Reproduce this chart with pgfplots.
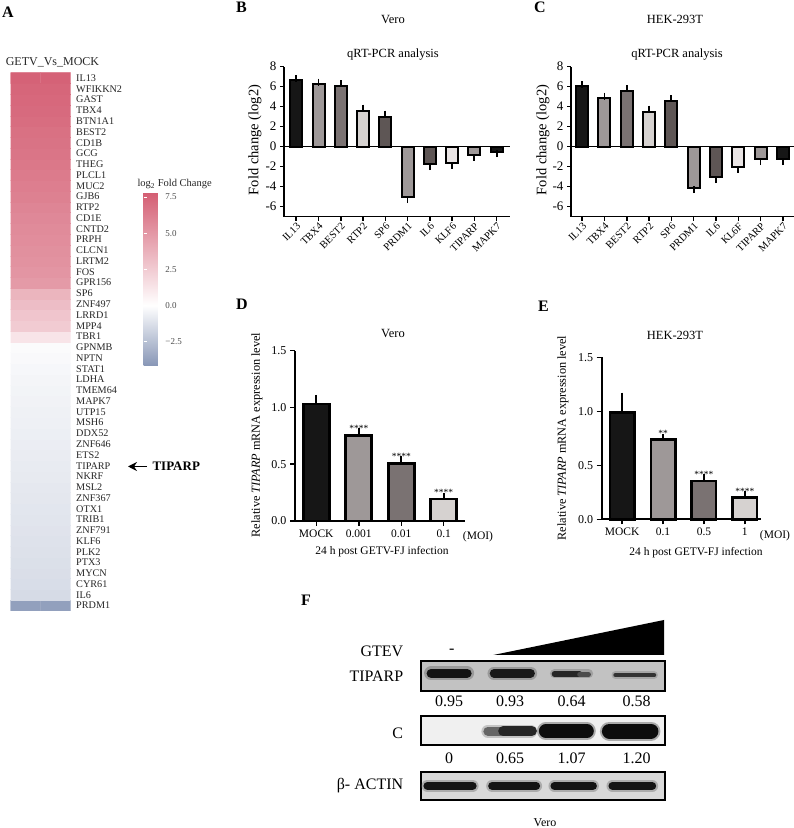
\documentclass[border=0pt]{standalone}
\usepackage{fontspec}
\setmainfont{Liberation Serif}
\usepackage{pgfplots}
\pgfplotsset{compat=1.18}
\usetikzlibrary{arrows.meta}
\newcommand{\fs}[1]{\fontsize{#1}{#1}\selectfont}
\definecolor{cA}{RGB}{22,22,22}
\definecolor{cB}{RGB}{158,152,152}
\definecolor{cC}{RGB}{122,114,114}
\definecolor{cD}{RGB}{214,210,208}
\definecolor{cE}{RGB}{94,86,85}
\definecolor{cF}{RGB}{233,228,228}
\pgfplotsset{
  panel/.style={anchor=south west, scale only axis, axis lines*=left,
    axis line style={line width=1.8pt}, tick align=outside, major tick length=4pt,
    tick style={line width=1.5pt, black}, clip=false},
  pb/.style={ybar, bar shift=0pt, bar width=#1, draw=black, line width=2pt,
    error bars/y dir=plus, error bars/y explicit,
    error bars/error bar style={line width=1.8pt, black},
    error bars/error mark options={line width=1.8pt, black, mark size=3.5pt}},
  nb/.style={ybar, bar shift=0pt, bar width=#1, draw=black, line width=2pt,
    error bars/y dir=minus, error bars/y explicit,
    error bars/error bar style={line width=1.8pt, black},
    error bars/error mark options={line width=1.8pt, black, mark size=3.5pt}},
  blot/.style={anchor=south west, scale only axis, width=244.3pt, xmin=0, xmax=4, ymin=0, ymax=1,
    axis line style={line width=2pt}, ticks=none},
  band/.style={line width=#1, line cap=round},
}
\begin{document}
\begin{tikzpicture}
\path[use as bounding box] (0,0) rectangle (794pt,828pt);

% ---------------- Panel A ----------------
\node[font=\bfseries\fs{16}] at (8pt,816pt) {A};
\node[font=\fs{12}, text=black!85] at (52.5pt,766pt) {GETV\_Vs\_MOCK};
\begin{axis}[at={(10.7pt,217pt)}, anchor=south west, scale only axis, width=60pt, height=538.3pt,
  xmin=-0.5, xmax=1.5, ymin=0.5, ymax=50.5, enlargelimits=false,
  axis line style={draw=none}, xtick=\empty, ytick={1,...,50},
  yticklabels={PRDM1,IL6,CYR61,MYCN,PTX3,PLK2,KLF6,ZNF791,TRIB1,OTX1,ZNF367,MSL2,NKRF,TIPARP,ETS2,ZNF646,DDX52,MSH6,UTP15,MAPK7,TMEM64,LDHA,STAT1,NPTN,GPNMB,TBR1,MPP4,LRRD1,ZNF497,SP6,GPR156,FOS,LRTM2,CLCN1,PRPH,CNTD2,CD1E,RTP2,GJB6,MUC2,PLCL1,THEG,GCG,CD1B,BEST2,BTN1A1,TBX4,GAST,WFIKKN2,IL13},
  yticklabel pos=right, ytick style={draw=none},
  yticklabel style={font=\fs{10.2}, text=black!85, inner sep=0pt, anchor=west, xshift=5.3pt},
  colormap={hm}{rgb255(0pt)=(135,150,182); rgb255(4.2pt)=(255,255,255); rgb255(12pt)=(212,94,115)},
  point meta min=-4.2, point meta max=7.8,
  colorbar,
  colorbar style={at={(parent axis.north east)}, anchor=north west, xshift=64.3pt, yshift=-120pt,
    scale only axis, width=17.7pt, height=173.3pt,
    ytick={-2.5,0,2.5,5,7.5}, yticklabels={−2.5,0.0,2.5,5.0,7.5},
    yticklabel style={font=\fs{9}, text=black!70, anchor=west, inner sep=0pt, xshift=4pt},
    axis line style={draw=none}, tick style={draw=white, line width=0.8pt},
    major tick length=3pt, tick align=inside},
]
\addplot[matrix plot*, mesh/cols=2, point meta=explicit] table[meta=c, row sep=\\] {
x y c\\
0 1 -3.8\\ 1 1 -3.8\\
0 2 -1.45\\ 1 2 -1.45\\
0 3 -1.35\\ 1 3 -1.35\\
0 4 -1.3\\ 1 4 -1.3\\
0 5 -1.25\\ 1 5 -1.25\\
0 6 -1.2\\ 1 6 -1.2\\
0 7 -1.15\\ 1 7 -1.15\\
0 8 -1.1\\ 1 8 -1.1\\
0 9 -1.05\\ 1 9 -1.05\\
0 10 -1.0\\ 1 10 -1.0\\
0 11 -0.95\\ 1 11 -0.95\\
0 12 -0.9\\ 1 12 -0.9\\
0 13 -0.85\\ 1 13 -0.85\\
0 14 -0.8\\ 1 14 -0.8\\
0 15 -0.75\\ 1 15 -0.75\\
0 16 -0.7\\ 1 16 -0.7\\
0 17 -0.65\\ 1 17 -0.65\\
0 18 -0.6\\ 1 18 -0.6\\
0 19 -0.55\\ 1 19 -0.55\\
0 20 -0.5\\ 1 20 -0.5\\
0 21 -0.44\\ 1 21 -0.44\\
0 22 -0.38\\ 1 22 -0.38\\
0 23 -0.3\\ 1 23 -0.3\\
0 24 -0.22\\ 1 24 -0.22\\
0 25 -0.15\\ 1 25 -0.15\\
0 26 1.3\\ 1 26 1.3\\
0 27 2.5\\ 1 27 2.5\\
0 28 2.8\\ 1 28 2.8\\
0 29 3.2\\ 1 29 3.2\\
0 30 3.6\\ 1 30 3.6\\
0 31 4.9\\ 1 31 4.9\\
0 32 5.15\\ 1 32 5.15\\
0 33 5.3\\ 1 33 5.3\\
0 34 5.4\\ 1 34 5.4\\
0 35 5.5\\ 1 35 5.5\\
0 36 5.6\\ 1 36 5.6\\
0 37 5.75\\ 1 37 5.75\\
0 38 5.9\\ 1 38 5.9\\
0 39 6.1\\ 1 39 6.1\\
0 40 6.25\\ 1 40 6.25\\
0 41 6.4\\ 1 41 6.4\\
0 42 6.55\\ 1 42 6.55\\
0 43 6.7\\ 1 43 6.7\\
0 44 6.8\\ 1 44 6.8\\
0 45 6.9\\ 1 45 6.9\\
0 46 7.05\\ 1 46 7.05\\
0 47 7.2\\ 1 47 7.2\\
0 48 7.3\\ 1 48 7.3\\
0 49 7.4\\ 1 49 7.4\\
0 50 7.6\\ 1 50 7.6\\
};
\end{axis}
\node[font=\fs{10.5}, text=black!85, anchor=west] at (134pt,644pt) {log\textsubscript{2} Fold Change};
\draw[line width=1.5pt, -{Stealth[length=9pt, width=9pt]}] (147pt,361.5pt) -- (128pt,361.5pt);
\node[font=\bfseries\fs{13}, anchor=west] at (149pt,361.5pt) {TIPARP};

% ---------------- Panel B ----------------
\node[font=\bfseries\fs{16}] at (241.5pt,820.5pt) {B};
\node[font=\fs{12.5}] at (393pt,808pt) {Vero};
\node[font=\fs{12.5}] at (393pt,773pt) {qRT-PCR analysis};
\node[font=\fs{14.5}, rotate=90] at (255pt,688pt) {Fold change (log2)};
\begin{axis}[panel, at={(284pt,611.4pt)}, width=226pt, height=150pt,
  xmin=-0.55, xmax=9.6, ymin=-7, ymax=8,
  ytick={-6,-4,-2,0,2,4,6,8}, yticklabels={-6,-4,-2,0,2,4,6,8},
  xtick={0,...,9}, xticklabels={IL13,TBX4,BEST2,RTP2,SP6,PRDM1,IL6,KLF6,TIPARP,MAPK7},
  xticklabel style={rotate=45, anchor=north east, font=\fs{10.5}, inner sep=1pt},
  yticklabel style={font=\fs{13}}]
\addplot[black, line width=1.8pt] coordinates {(-0.55,0) (9.6,0)};
\addplot[pb=12pt, fill=cA] coordinates {(0,6.65) +- (0,0.12)};
\addplot[pb=12pt, fill=cB] coordinates {(1,6.3) +- (0,0.15)};
\addplot[pb=12pt, fill=cC] coordinates {(2,6.1) +- (0,0.2)};
\addplot[pb=12pt, fill=cD] coordinates {(3,3.55) +- (0,0.3)};
\addplot[pb=12pt, fill=cE] coordinates {(4,2.95) +- (0,0.3)};
\addplot[nb=12pt, fill=cB] coordinates {(5,-5.0) +- (0,0.3)};
\addplot[nb=12pt, fill=cE] coordinates {(6,-1.75) +- (0,0.25)};
\addplot[nb=12pt, fill=cF] coordinates {(7,-1.6) +- (0,0.25)};
\addplot[nb=12pt, fill=cB] coordinates {(8,-0.85) +- (0,0.2)};
\addplot[nb=12pt, fill=cA] coordinates {(9,-0.55) +- (0,0.15)};
\end{axis}

% ---------------- Panel C ----------------
\node[font=\bfseries\fs{16}] at (540pt,821pt) {C};
\node[font=\fs{12.5}] at (675pt,809pt) {HEK-293T};
\node[font=\fs{12.5}] at (677pt,773pt) {qRT-PCR analysis};
\node[font=\fs{14.5}, rotate=90] at (543pt,688pt) {Fold change (log2)};
\begin{axis}[panel, at={(571pt,611.4pt)}, width=223pt, height=150pt,
  xmin=-0.5, xmax=9.5, ymin=-7, ymax=8,
  ytick={-6,-4,-2,0,2,4,6,8}, yticklabels={-6,-4,-2,0,2,4,6,8},
  xtick={0,...,9}, xticklabels={IL13,TBX4,BEST2,RTP2,SP6,PRDM1,IL6,KL6F,TIPARP,MAPK7},
  xticklabel style={rotate=45, anchor=north east, font=\fs{10.5}, inner sep=1pt},
  yticklabel style={font=\fs{13}}]
\addplot[black, line width=1.8pt] coordinates {(-0.5,0) (9.5,0)};
\addplot[pb=12pt, fill=cA] coordinates {(0,6.05) +- (0,0.15)};
\addplot[pb=12pt, fill=cB] coordinates {(1,4.85) +- (0,0.2)};
\addplot[pb=12pt, fill=cC] coordinates {(2,5.55) +- (0,0.25)};
\addplot[pb=12pt, fill=cD] coordinates {(3,3.45) +- (0,0.3)};
\addplot[pb=12pt, fill=cE] coordinates {(4,4.6) +- (0,0.2)};
\addplot[nb=12pt, fill=cB] coordinates {(5,-4.1) +- (0,0.2)};
\addplot[nb=12pt, fill=cE] coordinates {(6,-3.05) +- (0,0.25)};
\addplot[nb=12pt, fill=cF] coordinates {(7,-2.0) +- (0,0.25)};
\addplot[nb=12pt, fill=cB] coordinates {(8,-1.2) +- (0,0.3)};
\addplot[nb=12pt, fill=cA] coordinates {(9,-1.2) +- (0,0.3)};
\end{axis}

% ---------------- Panel D ----------------
\node[font=\bfseries\fs{16}] at (242pt,524pt) {D};
\node[font=\fs{12.5}] at (393pt,494pt) {Vero};
\node[font=\fs{12.3}, rotate=90] at (257pt,393pt) {Relative \textit{TIPARP} mRNA expression level};
\begin{axis}[panel, at={(295pt,307pt)}, width=170pt, height=170.3pt,
  xmin=-0.5, xmax=3.5, ymin=0, ymax=1.5, major tick length=5pt,
  ytick={0,0.5,1,1.5}, yticklabels={0.0,0.5,1.0,1.5},
  xtick={0,1,2,3}, xticklabels={MOCK,0.001,0.01,0.1},
  xticklabel style={font=\fs{11.5}}, yticklabel style={font=\fs{12}}]
\addplot[pb=26pt, line width=2.6pt, fill=cA] coordinates {(0,1.03) +- (0,0.05)};
\addplot[pb=26pt, line width=2.6pt, fill=cB] coordinates {(1,0.755) +- (0,0.03)};
\addplot[pb=26pt, line width=2.6pt, fill=cC] coordinates {(2,0.505) +- (0,0.035)};
\addplot[pb=26pt, line width=2.6pt, fill=cD] coordinates {(3,0.193) +- (0,0.027)};
\node[font=\fs{9.5}, anchor=base, inner sep=0pt] at (axis cs:1,0.79) {****};
\node[font=\fs{9.5}, anchor=base, inner sep=0pt] at (axis cs:2,0.545) {****};
\node[font=\fs{9.5}, anchor=base, inner sep=0pt] at (axis cs:3,0.225) {****};
\end{axis}
\node[font=\fs{11.5}] at (478pt,291.3pt) {(MOI)};
\node[font=\fs{11.5}] at (382pt,276pt) {24 h post GETV-FJ infection};

% ---------------- Panel E ----------------
\node[font=\bfseries\fs{16}] at (543.5pt,522pt) {E};
\node[font=\fs{12.5}] at (675pt,493pt) {HEK-293T};
\node[font=\fs{12.3}, rotate=90] at (563pt,390pt) {Relative \textit{TIPARP} mRNA expression level};
\begin{axis}[panel, at={(601.7pt,308.7pt)}, width=159.5pt, height=162pt,
  xmin=-0.5, xmax=3.4, ymin=0, ymax=1.5, major tick length=5pt,
  ytick={0,0.5,1,1.5}, yticklabels={0.0,0.5,1.0,1.5},
  xtick={0,1,2,3}, xticklabels={MOCK,0.1,0.5,1},
  xticklabel style={font=\fs{11.5}}, yticklabel style={font=\fs{12}}]
\addplot[pb=24.5pt, line width=2.6pt, fill=cA] coordinates {(0,0.99) +- (0,0.15)};
\addplot[pb=24.5pt, line width=2.6pt, fill=cB] coordinates {(1,0.738) +- (0,0.02)};
\addplot[pb=24.5pt, line width=2.6pt, fill=cC] coordinates {(2,0.354) +- (0,0.031)};
\addplot[pb=24.5pt, line width=2.6pt, fill=cD] coordinates {(3,0.2) +- (0,0.025)};
\node[font=\fs{9.5}, anchor=base, inner sep=0pt] at (axis cs:1,0.765) {**};
\node[font=\fs{9.5}, anchor=base, inner sep=0pt] at (axis cs:2,0.39) {****};
\node[font=\fs{9.5}, anchor=base, inner sep=0pt] at (axis cs:3,0.23) {****};
\end{axis}
\node[font=\fs{11.5}] at (775pt,292pt) {(MOI)};
\node[font=\fs{11.5}] at (696pt,275pt) {24 h post GETV-FJ infection};

% ---------------- Panel F ----------------
\node[font=\bfseries\fs{16}] at (306pt,228pt) {F};
\node[font=\fs{16}, anchor=east] at (406.7pt,176.3pt) {GTEV};
\node[font=\fs{16}] at (451.7pt,177pt) {-};
\fill[black] (493.3pt,173pt) -- (664pt,173pt) -- (664pt,208pt) -- cycle;
\node[font=\fs{16}, anchor=east] at (406.7pt,152pt) {TIPARP};
\node[font=\fs{16}, anchor=east] at (406.7pt,95pt) {C};
\node[font=\fs{16}, anchor=east] at (406.7pt,42.3pt) {β- ACTIN};
\begin{axis}[blot, at={(420.7pt,137.3pt)}, height=30pt, axis background/.style={fill=black!24}]
\addplot[band=14pt, black!55, opacity=0.5] coordinates {(0.17,0.58) (0.76,0.58)};
\addplot[band=9pt, black!92] coordinates {(0.17,0.58) (0.76,0.58)};
\addplot[band=13pt, black!55, opacity=0.5] coordinates {(1.2,0.58) (1.8,0.58)};
\addplot[band=8.5pt, black!90] coordinates {(1.2,0.58) (1.8,0.58)};
\addplot[band=9pt, black!50, opacity=0.5] coordinates {(2.19,0.56) (2.75,0.56)};
\addplot[band=5.5pt, black!85] coordinates {(2.19,0.56) (2.6,0.56)};
\addplot[band=4.5pt, black!70] coordinates {(2.6,0.54) (2.75,0.54)};
\addplot[band=8pt, black!45, opacity=0.5] coordinates {(3.19,0.52) (3.82,0.52)};
\addplot[band=4.5pt, black!80] coordinates {(3.19,0.52) (3.82,0.52)};
\end{axis}
\node[font=\fs{16}] at (449pt,126.3pt) {0.95};
\node[font=\fs{16}] at (510pt,126.3pt) {0.93};
\node[font=\fs{16}] at (571.7pt,126.3pt) {0.64};
\node[font=\fs{16}] at (636.7pt,126.3pt) {0.58};
\begin{axis}[blot, at={(420.7pt,83pt)}, height=29pt, axis background/.style={fill=black!6}]
\addplot[band=13pt, black!40, opacity=0.5] coordinates {(1.1,0.48) (1.8,0.48)};
\addplot[band=9pt, black!60] coordinates {(1.1,0.48) (1.4,0.48)};
\addplot[band=10pt, black!85] coordinates {(1.35,0.48) (1.82,0.48)};
\addplot[band=18pt, black!60, opacity=0.5] coordinates {(2.05,0.48) (2.72,0.48)};
\addplot[band=14pt, black!95] coordinates {(2.05,0.48) (2.72,0.48)};
\addplot[band=19pt, black!60, opacity=0.5] coordinates {(3.09,0.48) (3.77,0.48)};
\addplot[band=15pt, black!95] coordinates {(3.09,0.48) (3.77,0.48)};
\end{axis}
\node[font=\fs{16}] at (449pt,70pt) {0};
\node[font=\fs{16}] at (510pt,70pt) {0.65};
\node[font=\fs{16}] at (571.7pt,70pt) {1.07};
\node[font=\fs{16}] at (636.7pt,70pt) {1.20};
\begin{axis}[blot, at={(420.7pt,28pt)}, height=28.3pt, axis background/.style={fill=black!15}]
\addplot[band=12pt, black!50, opacity=0.5] coordinates {(0.11,0.5) (0.85,0.5)};
\addplot[band=8pt, black!92] coordinates {(0.11,0.5) (0.85,0.5)};
\addplot[band=12pt, black!50, opacity=0.5] coordinates {(1.17,0.5) (1.89,0.5)};
\addplot[band=8pt, black!92] coordinates {(1.17,0.5) (1.89,0.5)};
\addplot[band=12pt, black!50, opacity=0.5] coordinates {(2.19,0.5) (2.82,0.5)};
\addplot[band=8pt, black!92] coordinates {(2.19,0.5) (2.82,0.5)};
\addplot[band=12pt, black!50, opacity=0.5] coordinates {(3.14,0.5) (3.79,0.5)};
\addplot[band=8pt, black!92] coordinates {(3.14,0.5) (3.79,0.5)};
\end{axis}
\node[font=\fs{12}] at (545pt,5pt) {Vero};
\end{tikzpicture}
\end{document}
